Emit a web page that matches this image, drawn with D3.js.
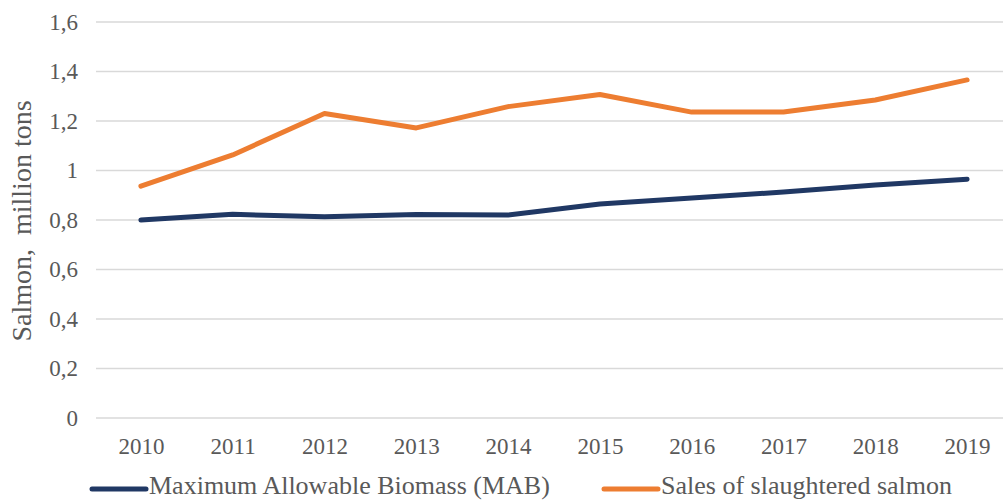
<!DOCTYPE html>
<html>
<head>
<meta charset="utf-8">
<script src="https://cdn.jsdelivr.net/npm/d3@7"></script>
<style>
  html, body { margin: 0; padding: 0; background: #fff; }
  svg { display: block; }
  text { font-family: "Liberation Serif", "Times New Roman", serif; fill: #595959; }
</style>
</head>
<body>
<svg id="chart" width="1003" height="501"></svg>
<script>
// Years on the horizontal axis
const years = ["2010", "2011", "2012", "2013", "2014", "2015", "2016", "2017", "2018", "2019"];
// Maximum Allowable Biomass, million tons
const mabValues = [0.80, 0.823, 0.813, 0.822, 0.82, 0.865, 0.889, 0.913, 0.941, 0.965];
// Sales of slaughtered salmon, million tons
const salesValues = [0.937, 1.063, 1.23, 1.172, 1.258, 1.307, 1.236, 1.236, 1.285, 1.366];
// Value axis ticks
const yTicks = [0, 0.2, 0.4, 0.6, 0.8, 1, 1.2, 1.4, 1.6];

const seriesNames = ["Maximum Allowable Biomass (MAB)", "Sales of slaughtered salmon"];
const seriesColors = ["#203864", "#ED7D31"];

const svg = d3.select("#chart");

const x = d3.scalePoint().domain(years).range([95, 1013]).padding(0.5);
const y = d3.scaleLinear().domain([0, 1.6]).range([418, 22]);

const fmt = v => String(v).replace(".", ",");

// Horizontal gridlines
svg.append("g")
  .selectAll("line")
  .data(yTicks)
  .join("line")
  .attr("x1", 96).attr("x2", 1003)
  .attr("y1", d => y(d)).attr("y2", d => y(d))
  .attr("stroke", "#d9d9d9")
  .attr("stroke-width", 1.5);

// Value axis labels
const yAxis = d3.axisLeft(y).tickValues(yTicks).tickFormat(fmt).tickSize(0).tickPadding(0);
svg.append("g")
  .attr("transform", "translate(78,0)")
  .call(yAxis)
  .call(g => g.select(".domain").remove())
  .selectAll("text")
  .attr("font-size", 23)
  .attr("font-family", "Liberation Serif, serif")
  .attr("fill", "#595959");

// Category axis labels
const xAxis = d3.axisBottom(x).tickSize(0).tickPadding(0);
svg.append("g")
  .attr("transform", "translate(0,438)")
  .call(xAxis)
  .call(g => g.select(".domain").remove())
  .selectAll("text")
  .attr("font-size", 23)
  .attr("font-family", "Liberation Serif, serif")
  .attr("fill", "#595959");

// Axis title
svg.append("text")
  .attr("transform", "translate(31,221) rotate(-90)")
  .attr("text-anchor", "middle")
  .attr("font-size", 28)
  .attr("xml:space", "preserve")
  .style("white-space", "pre")
  .text("Salmon,  million tons");

// Series lines
const line = d3.line()
  .x((d, i) => x(years[i]))
  .y(d => y(d));

[mabValues, salesValues].forEach((vals, k) => {
  svg.append("path")
    .datum(vals)
    .attr("d", line)
    .attr("fill", "none")
    .attr("stroke", seriesColors[k])
    .attr("stroke-width", 5)
    .attr("stroke-linejoin", "round")
    .attr("stroke-linecap", "round");
});

// Legend
const legendItems = [
  { name: seriesNames[0], color: seriesColors[0], x0: 92 },
  { name: seriesNames[1], color: seriesColors[1], x0: 604 }
];
const lg = svg.append("g");
legendItems.forEach(it => {
  lg.append("line")
    .attr("x1", it.x0).attr("x2", it.x0 + 54)
    .attr("y1", 489).attr("y2", 489)
    .attr("stroke", it.color)
    .attr("stroke-width", 5)
    .attr("stroke-linecap", "round");
  lg.append("text")
    .attr("x", it.x0 + 57)
    .attr("y", 494)
    .attr("font-size", 26)
    .text(it.name);
});
</script>
</body>
</html>
